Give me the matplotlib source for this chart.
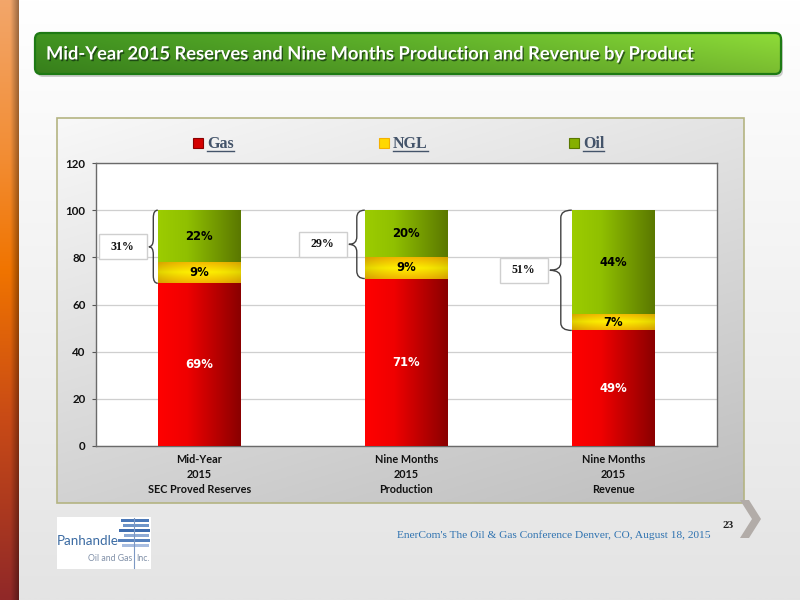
import numpy as np
import matplotlib
matplotlib.use("Agg")
import matplotlib.pyplot as plt
from matplotlib.patches import Rectangle, FancyBboxPatch, Polygon, PathPatch
from matplotlib.path import Path
from matplotlib.colors import to_rgb
import matplotlib.patheffects as pe
from matplotlib.transforms import IdentityTransform

# ---------------- data ----------------
categories = ["Mid-Year\n2015\nSEC Proved Reserves",
              "Nine Months\n2015\nProduction",
              "Nine Months\n2015\nRevenue"]
series_names = ["Gas", "NGL", "Oil"]
gas = [69, 71, 49]
ngl = [9, 9, 7]
oil = [22, 20, 44]
y_ticks = [0, 20, 40, 60, 80, 100, 120]
title = "Mid-Year 2015 Reserves and Nine Months Production and Revenue by Product"
footer = "EnerCom's The Oil & Gas Conference Denver, CO, August 18, 2015"
page = "23"

# ---------------- style ----------------
W, H = 800, 600
BRACE_DEPTH_PX = [9, 16, 22]
BOX_W, BOX_H, BOX_GAP = 48, 25, 2
LEGEND_X = [193, 379, 569]
LEGEND_Y = 143


def lerp_colors(stops, n):
    pos = np.array([s[0] for s in stops])
    cols = np.array([to_rgb(s[1]) for s in stops])
    t = np.linspace(0, 1, n)
    return np.stack([np.interp(t, pos, cols[:, k]) for k in range(3)], axis=-1)


fig = plt.figure(figsize=(8, 6), dpi=100)
bg = fig.add_axes([0, 0, 1, 1], zorder=0)
bg.axis("off")

# slide background
arr = lerp_colors([(0, "#ffffff"), (0.15, "#fbfbfb"), (1, "#e4e4e4")], 200)[:, None, :]
bg.imshow(arr, extent=(0, W, H, 0), aspect="auto", zorder=0)

# left strip
v = lerp_colors([(0, "#f2a66a"), (0.25, "#f38e36"), (0.45, "#f07400"),
                 (0.7, "#c84a16"), (1, "#902828")], 300)
hx = np.linspace(0, 1, 20)
shade = np.where(hx < 0.55, 1.0, 1.0 - 0.35 * (hx - 0.55) / 0.45)
strip = v[:, None, :] * shade[None, :, None]
bg.imshow(strip, extent=(0, 19, H, 0), aspect="auto", zorder=1)

# title banner with shadow
shadow = FancyBboxPatch((37, 36), 746, 41, boxstyle="round,pad=0,rounding_size=6",
                        fc="#000000", ec="none", alpha=0.18, zorder=2)
bg.add_patch(shadow)
banner = FancyBboxPatch((35, 33), 746, 41, boxstyle="round,pad=0,rounding_size=6",
                        fc="none", ec="#1e7a14", lw=1.6, zorder=4)
bg.add_patch(banner)
hb = lerp_colors([(0, "#3c8a1e"), (0.5, "#5aa828"), (1, "#84cc34")], 200)
vb = np.linspace(1.08, 0.92, 40)
bimg = np.clip(hb[None, :, :] * vb[:, None, None], 0, 1)
im = bg.imshow(bimg, extent=(35, 781, 74, 33), aspect="auto", zorder=3)
im.set_clip_path(banner)
bg.text(46, 54, title, color="white", fontsize=13.2, fontweight="bold",
        family=["Lato", "DejaVu Sans"], va="center", ha="left", zorder=5,
        path_effects=[pe.withSimplePatchShadow(offset=(1, -1.2), shadow_rgbFace="#103010", alpha=0.7)])

# chart panel
u = np.linspace(0, 1, 200)
vv = np.linspace(0, 1, 200)
tt = (u[None, :] * 0.35 + vv[:, None] * 0.65)
c0 = np.array(to_rgb("#f8f8f8"))
c1 = np.array(to_rgb("#bebebe"))
pimg = c0[None, None, :] * (1 - tt[..., None]) + c1[None, None, :] * tt[..., None]
bg.imshow(pimg, extent=(57, 744, 503, 118), aspect="auto", zorder=2)
bg.add_patch(Rectangle((57, 118), 687, 385, fc="none", ec="#b4b482", lw=1.2, zorder=3))

# chevron
bg.add_patch(Polygon([(740, 500), (749, 500), (761, 519), (749, 538), (740, 538), (752, 519)],
                     closed=True, fc="#b2aca8", ec="none", zorder=3))

# logo
bg.add_patch(Rectangle((57, 517), 94, 52, fc="white", ec="none", zorder=3))
stripes = [(121, 519, 28, "#4a78b8"), (123, 524, 26, "#6f95c8"), (119, 529, 31, "#3e6cae"),
           (124, 534, 25, "#8eaad4"), (118, 539, 32, "#5580bc"), (122, 544, 27, "#a8bde0")]
for sx, sy, sw, sc in stripes:
    bg.add_patch(Rectangle((sx, sy), sw, 3.2, fc=sc, ec="none", zorder=4))
bg.plot([134, 134], [518, 568], color="#7c98c4", lw=0.8, zorder=4)
bg.text(57, 545, "Panhandle", fontsize=9.6, color="#3a6aa2", family=["Lato", "DejaVu Sans"],
        ha="left", va="baseline", zorder=5)
bg.text(132, 561, "Oil and Gas", fontsize=6.3, color="#8090a8", family=["Lato", "DejaVu Sans"],
        ha="right", va="baseline", zorder=5)
bg.text(136, 561, "Inc.", fontsize=6.3, color="#8090a8", family=["Lato", "DejaVu Sans"],
        ha="left", va="baseline", zorder=5)

# footer
bg.text(711, 538, footer, fontsize=8.2, color="#2e72b0", family=["Liberation Serif", "DejaVu Serif"],
        ha="right", va="baseline", zorder=5)
bg.text(728, 528, page, fontsize=8, color="#202020", fontweight="bold",
        family=["Liberation Serif", "DejaVu Serif"], ha="center", va="baseline", zorder=5)

bg.set_xlim(0, W)
bg.set_ylim(H, 0)

# ---------------- chart ----------------
ax = fig.add_axes([95.7 / W, (H - 446) / H, 621 / W, 283 / H], zorder=2)
ax.set_facecolor("white")
x = np.arange(len(categories))
bar_w = 0.4
gas_arr = np.array(gas)
ngl_arr = np.array(ngl)
oil_arr = np.array(oil)
c_gas = ax.bar(x, gas_arr, width=bar_w, color="#c80000", zorder=3)
c_ngl = ax.bar(x, ngl_arr, width=bar_w, bottom=gas_arr, color="#ffd800", zorder=3)
c_oil = ax.bar(x, oil_arr, width=bar_w, bottom=gas_arr + ngl_arr, color="#7aa000", zorder=3)

grad_gas = lerp_colors([(0, "#ff0000"), (0.35, "#f00000"), (1, "#8a0000")], 100)[None, :, :]
grad_oil = lerp_colors([(0, "#9ccc00"), (0.35, "#90c000"), (1, "#5a7800")], 100)[None, :, :]
gy = lerp_colors([(0, "#f2b400"), (0.5, "#fff000"), (1, "#f2b400")], 60)
gx = 1 - 0.12 * np.abs(np.linspace(-1, 1, 100)) ** 2
grad_ngl = np.clip(gy[:, None, :] * gx[None, :, None], 0, 1)

for cont, g in [(c_gas, grad_gas), (c_ngl, grad_ngl), (c_oil, grad_oil)]:
    for p in cont.patches:
        x0, y0, w, h = p.get_x(), p.get_y(), p.get_width(), p.get_height()
        gi = ax.imshow(g, extent=(x0, x0 + w, y0, y0 + h), aspect="auto",
                       origin="lower", zorder=4, interpolation="bilinear")
        gi.set_clip_path(p)

lab_font = dict(fontsize=8.4, fontweight="bold", family=["DejaVu Sans"])
ax.bar_label(c_gas, labels=[f"{v}%" for v in gas], label_type="center", color="white", **lab_font)
ax.bar_label(c_ngl, labels=[f"{v}%" for v in ngl], label_type="center", color="black", **lab_font)
ax.bar_label(c_oil, labels=[f"{v}%" for v in oil], label_type="center", color="black", **lab_font)
for t in ax.texts:
    t.set_zorder(6)

ax.set_xlim(-0.5, len(categories) - 0.5)
ax.set_ylim(0, 120)
ax.set_yticks(y_ticks)
ax.set_xticks(x)
ax.set_xticklabels(categories, fontsize=7.8, fontweight="bold", family=["Lato", "DejaVu Sans"],
                   linespacing=1.45, color="#111111")
ax.tick_params(axis="x", length=0, pad=6)
ax.tick_params(axis="y", length=3, width=0.8, direction="out", pad=4.3, colors="#555555",
               labelcolor="#111111")
for lbl in ax.get_yticklabels():
    lbl.set_fontweight("bold")
    lbl.set_fontsize(8.3)
    lbl.set_family(["Lato", "DejaVu Sans"])
ax.yaxis.grid(True, color="#cfcfcf", lw=0.9, zorder=1)
ax.set_axisbelow(True)
for s in ax.spines.values():
    s.set_color("#6a6a6a")
    s.set_linewidth(1.0)

# braces and boxes
px_per_x = 621 / (len(categories))
for i, p in enumerate(c_oil.patches):
    xe = p.get_x()
    yt = p.get_y() + p.get_height()
    yb = c_ngl.patches[i].get_y()
    ym = (yt + yb) / 2
    d = BRACE_DEPTH_PX[i] / px_per_x
    xm = xe - d / 2
    xt = xe - d
    r = 3.2
    verts = [(xe, yt), (xm, yt), (xm, yt - r), (xm, ym + r), (xm, ym), (xt, ym),
             (xm, ym), (xm, ym - r), (xm, yb + r), (xm, yb), (xe, yb)]
    codes = [Path.MOVETO, Path.CURVE3, Path.CURVE3, Path.LINETO, Path.CURVE3, Path.CURVE3,
             Path.CURVE3, Path.CURVE3, Path.LINETO, Path.CURVE3, Path.CURVE3]
    ax.add_patch(PathPatch(Path(verts, codes), fc="none", ec="#404040", lw=1.0, zorder=5))
    tx, ty = ax.transData.transform((xt, ym))
    bx = tx - BOX_GAP - BOX_W
    ax.add_patch(Rectangle((bx, ty - BOX_H / 2), BOX_W, BOX_H, transform=IdentityTransform(),
                           fc="white", ec="#cfcfcf", lw=1.0, zorder=5, clip_on=False))
    ax.text(bx + BOX_W / 2, ty, f"{ngl[i] + oil[i]}%", transform=IdentityTransform(),
            ha="center", va="center", fontsize=8.6, fontweight="bold",
            family=["Liberation Serif", "DejaVu Serif"], color="#111111", zorder=6)

# legend (manual, above plot)
leg_cols = ["#d40000", "#ffd800", "#86b000"]
leg_edges = ["#8a0000", "#f4b000", "#5a7800"]
leg_texts = []
for lx, name, fc, ec in zip(LEGEND_X, series_names, leg_cols, leg_edges):
    bg.add_patch(Rectangle((lx, LEGEND_Y - 5), 10, 10, fc=fc, ec=ec, lw=0.8, zorder=6))
    t = bg.text(lx + 14, LEGEND_Y + 5, name, fontsize=11.5, fontweight="bold",
                family=["Liberation Serif", "DejaVu Serif"], color="#44546a",
                ha="left", va="baseline", zorder=6)
    leg_texts.append(t)

fig.canvas.draw()
inv = bg.transData.inverted()
for t in leg_texts:
    bb = t.get_window_extent()
    (x0, _), (x1, _) = inv.transform([(bb.x0, 0), (bb.x1, 0)])
    bg.plot([x0, x1], [LEGEND_Y + 7.5, LEGEND_Y + 7.5], color="#44546a", lw=1.0, zorder=6)
bg.set_xlim(0, W)
bg.set_ylim(H, 0)

fig.savefig("out.png", dpi=100)
